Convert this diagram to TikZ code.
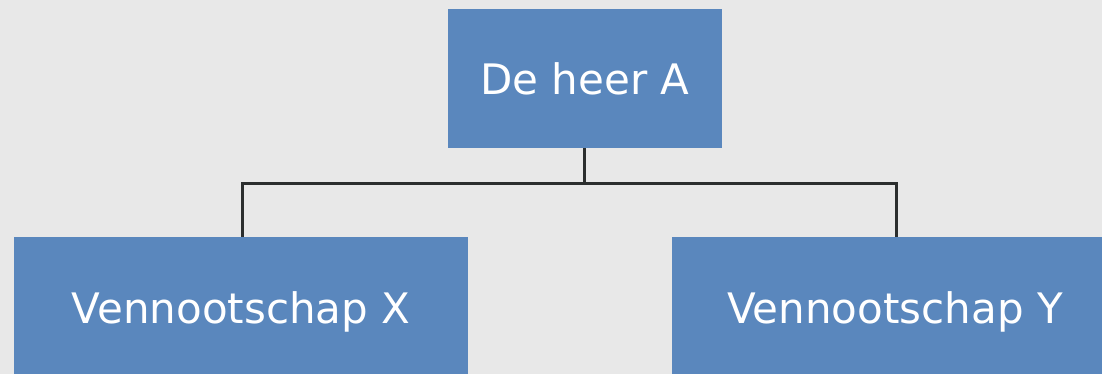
\documentclass[tikz,border=0pt]{standalone}
\usepackage{fontspec}
\setmainfont{DejaVu Sans}
\definecolor{bg}{HTML}{E8E8E8}
\definecolor{boxblue}{HTML}{5A87BD}
\definecolor{wire}{HTML}{2B2E2E}
\begin{document}
\begin{tikzpicture}[x=1pt,y=-1pt,
  orgbox/.style={fill=boxblue,draw=none,inner sep=0pt,anchor=north west},
  label/.style={text=white,font=\fontsize{42}{50}\selectfont,anchor=base,inner sep=0pt},
  wireline/.style={draw=wire,line width=3pt}]
  \fill[bg] (0,0) rectangle (1102,374);
  \useasboundingbox (0,0) rectangle (1102,374);
  \clip (0,0) rectangle (1102,374);
  % boxes
  \node[orgbox,minimum width=274pt,minimum height=139pt] (top) at (448,9) {};
  \node[orgbox,minimum width=454pt,minimum height=139pt] (left) at (14,237) {};
  \node[orgbox,minimum width=448pt,minimum height=139pt] (right) at (672,237) {};
  % labels
  \node[label] (ttop) at (585,95) {De heer A};
  \node[label] (tleft) at (241,323) {Vennootschap X};
  \node[label] (tright) at (895,323) {Vennootschap Y};
  % connectors
  \coordinate (bus) at (584,184);
  \draw[wireline] (top.south -| bus) -- (bus);
  \draw[wireline] (bus) -| ([xshift=1pt]left.north);
  \draw[wireline] (bus) -| (right.north);
\end{tikzpicture}
\end{document}
